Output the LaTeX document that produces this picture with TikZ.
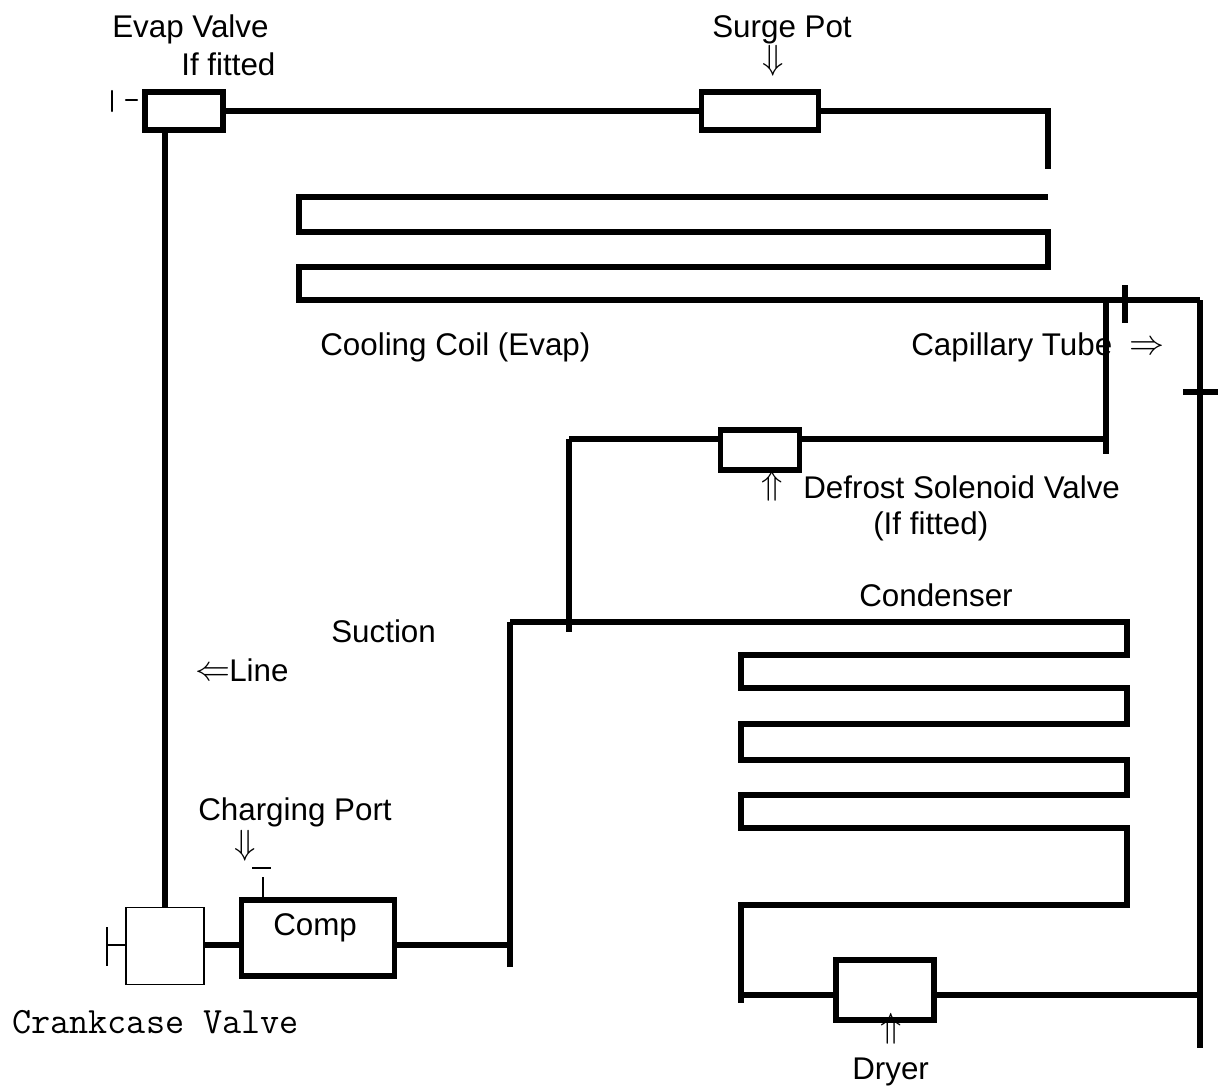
\documentclass[tikz,border=0pt]{standalone}
\usepackage{fontspec}
\usepackage{amsmath}
\setmainfont{Liberation Sans}
\usetikzlibrary{calc}
\newcommand{\pxs}{0.025cm}

\begin{document}
\begin{tikzpicture}[
  x=0.025cm, y=-0.025cm,
  font=\fontsize{22.3}{26}\selectfont,
  pipe/.style={line width=3.6pt, line join=miter},
  thinpipe/.style={line width=1.6pt},
  pbox/.style={draw, line width=3.9pt, inner sep=0pt},
  vbox/.style={draw, line width=1pt, inner sep=0pt},
  lab/.style={anchor=base west, inner sep=0pt},
  sym/.style={anchor=center, inner sep=0pt, font=\fontsize{24}{26}\selectfont},
]
\useasboundingbox (0,0) rectangle (1218,1088);

% boxes
\node[pbox, minimum width=78*\pxs, minimum height=38*\pxs] (evap) at (184, 111) {};
\node[pbox, minimum width=117*\pxs, minimum height=38*\pxs] (surge) at (760, 111) {};
\node[pbox, minimum width=79*\pxs, minimum height=40*\pxs] (defrost) at (760, 450) {};
\node[pbox, minimum width=98*\pxs, minimum height=60*\pxs] (dryer) at (885, 990) {};
\node[pbox, minimum width=153*\pxs, minimum height=76*\pxs] (comp) at (318, 938) {};
\node[vbox, minimum width=78*\pxs, minimum height=77*\pxs] (crank) at (165, 946) {};

% junctions
\coordinate (ctop) at (1048, 169);
\coordinate (cin) at (1048, 197);
\coordinate (tee) at (1106, 300);
\coordinate (corner) at (1200, 300);
\coordinate (ltee) at (1200, 995);
\coordinate (lend) at (1200, 1048);
\coordinate (bus) at (1106, 439);
\coordinate (busend) at (1106, 454);
\coordinate (hot) at (569, 439);
\coordinate (hotend) at (569, 632);
\coordinate (dis) at (510, 945);
\coordinate (distop) at (510, 622);
\coordinate (disend) at (510, 967);
\coordinate (cdout) at (741, 995);
\coordinate (cdend) at (741, 1003);

% pipes between the boxes
\draw[pipe] (evap.east) -- (surge.west);
\draw[pipe] (surge.east) -| (ctop);
\draw[pipe] (crank.north |- evap.south) -- (crank.north);
\draw[pipe] (crank.east |- dis) -- (comp.west |- dis);
\draw[pipe] (comp.east |- dis) -- (dis);
\draw[pipe] (disend) -- (distop);
\draw[pipe] (hot) -- (hotend);
\draw[pipe] (hot) -- (defrost.west |- hot);
\draw[pipe] (defrost.east |- bus) -- (bus);
\draw[pipe] (tee) -- (busend);
\draw[pipe] (cdout) -- (dryer.west |- cdout);
\draw[pipe] (dryer.east |- ltee) -- (ltee);
\draw[pipe] (corner) -- (lend);

% cooling coil
\draw[pipe] (cin) -- (299, 197) -- (299, 232) -- (1048, 232) -- (1048, 267)
  -- (299, 267) -- (299, 300) -- (corner);

% condenser
\draw[pipe] (distop) -- (1127, 622) -- (1127, 655) -- (741, 655) -- (741, 688)
  -- (1127, 688) -- (1127, 724) -- (741, 724) -- (741, 760) -- (1127, 760)
  -- (1127, 795) -- (741, 795) -- (741, 828) -- (1127, 828) -- (1127, 905)
  -- (741, 905) -- (cdend);

% stubs
\draw[pipe] (1125, 285) -- (1125, 323);
\draw[pipe] (1183, 392) -- (1218, 392);
\draw[thinpipe, line cap=round] (112, 91) -- (112, 111);
\draw[thinpipe, line cap=round] (126, 100) -- (137, 100);
\draw[thinpipe] (crank.west |- 0, 945) -- (107, 945);
\draw[thinpipe] (107, 927) -- (107, 966);
\draw[line width=2pt] (263, 877) -- (comp.north -| 263, 0);
\draw[line width=1pt] (252, 868) -- (271, 868);

% labels
\node[lab] (evaplab) at (112, 37) {Evap Valve};
\node[lab] (fitlab) at (181, 75) {If fitted};
\node[lab] (surgelab) at (712, 37) {Surge Pot};
\node[lab] (coillab) at (320, 355) {Cooling Coil (Evap)};
\node[lab] (caplab) at (911, 355) {Capillary Tube};
\node[lab] (deflab) at (803, 498) {Defrost Solenoid Valve};
\node[lab] (deflab2) at (873, 534) {(If fitted)};
\node[lab] (condlab) at (859, 606) {Condenser};
\node[lab] (suclab) at (331, 642) {Suction};
\node[lab] (linelab) at (229, 681) {Line};
\node[lab] (chglab) at (198, 820) {Charging Port};
\node[lab] (complab) at (273, 935) {Comp};
\node[lab] (dryerlab) at (852, 1079) {Dryer};
\node[lab, font=\fontsize{26.4}{28}\selectfont\ttfamily] (cranklab) at (12, 1033) {Crankcase Valve};

% arrows
\node[sym] (surgear) at (773, 61) {$\Downarrow$};
\node[sym] (capar) at (1147, 348) {$\Rightarrow$};
\node[sym] (defar) at (772, 486) {$\Uparrow$};
\node[sym] (linear) at (213, 674) {$\Leftarrow$};
\node[sym] (chgar) at (245, 846) {$\Downarrow$};
\node[sym] (dryar) at (891, 1029) {$\Uparrow$};
\end{tikzpicture}
\end{document}
